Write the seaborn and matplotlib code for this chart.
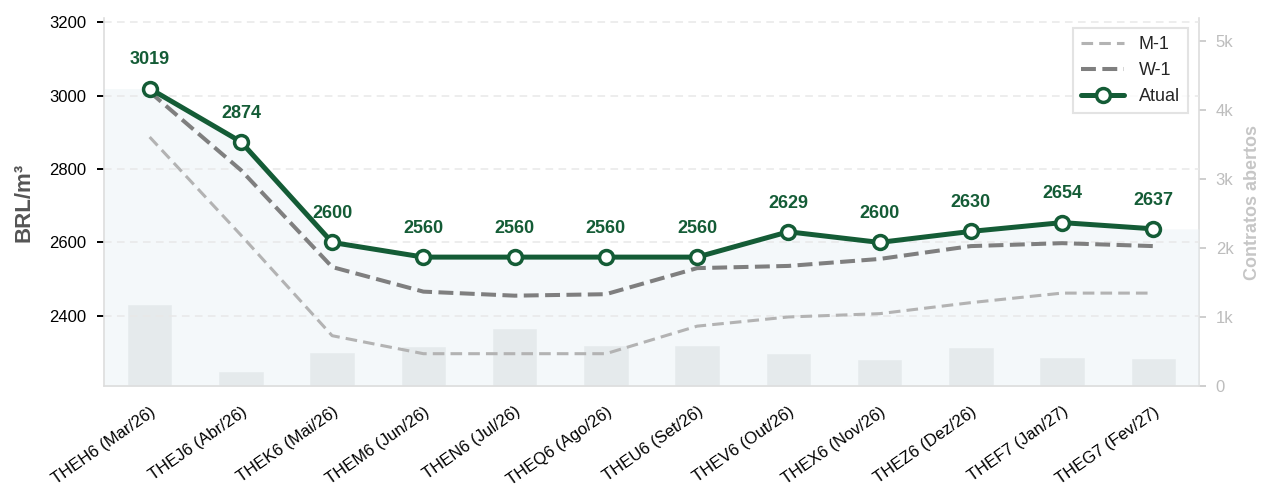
import numpy as np
import pandas as pd
import matplotlib
matplotlib.use("Agg")
import matplotlib.pyplot as plt
import seaborn as sns

categories = ["THEH6 (Mar/26)", "THEJ6 (Abr/26)", "THEK6 (Mai/26)", "THEM6 (Jun/26)",
              "THEN6 (Jul/26)", "THEQ6 (Ago/26)", "THEU6 (Set/26)", "THEV6 (Out/26)",
              "THEX6 (Nov/26)", "THEZ6 (Dez/26)", "THEF7 (Jan/27)", "THEG7 (Fev/27)"]
atual = [3019, 2874, 2600, 2560, 2560, 2560, 2560, 2629, 2600, 2630, 2654, 2637]
w1 = [3010, 2797, 2533, 2466, 2455, 2459, 2530, 2536, 2555, 2590, 2598, 2590]
m1 = [2887, 2620, 2346, 2297, 2297, 2297, 2372, 2397, 2406, 2436, 2462, 2462]
open_interest = [1190, 217, 487, 580, 847, 592, 592, 475, 390, 565, 420, 405]

sns.set_theme(style="white")
plt.rcParams["font.family"] = ["Liberation Sans", "DejaVu Sans"]

GREEN = "#145c36"
fig = plt.figure(figsize=(12.61, 4.88), dpi=100)
ax = fig.add_axes([0.0825, 0.209, 0.8683, 0.754])
ax2 = ax.twinx()
ax.set_zorder(ax2.get_zorder() + 1)
ax.patch.set_visible(False)

x = np.arange(len(categories))
df = pd.DataFrame({"x": x, "atual": atual, "w1": w1, "m1": m1, "oi": open_interest})

# bars (open interest) on twin axis
sns.barplot(data=df, x="x", y="oi", ax=ax2, color="#e4e6e7", width=0.5,
            saturation=1, native_scale=True)
ax2.set_ylim(0, 5330)
ax2.set_yticks([0, 1000, 2000, 3000, 4000, 5000])
ax2.set_yticklabels(["0", "1k", "2k", "3k", "4k", "5k"])
ax2.set_ylabel("Contratos abertos", color="#c6c6c6", fontsize=13, fontweight="bold",
               labelpad=8)
ax2.tick_params(axis="y", colors="#c6c6c6", labelsize=12, length=5, width=1.2,
                labelcolor="#bdbdbd", pad=7)
ax2.set_xlabel("")

# faint fill under the current curve
fx = np.concatenate([[-0.5], x, [11.5]])
fy = np.concatenate([[atual[0]], atual, [atual[-1]]])
ax.fill_between(fx, fy, 2000, color="#e8f1f4", alpha=0.45, linewidth=0, zorder=0)

sns.lineplot(data=df, x="x", y="m1", ax=ax, color="#b3b3b3", linewidth=2.2,
             linestyle=(0, (3.8, 2.0)), label="M-1")
sns.lineplot(data=df, x="x", y="w1", ax=ax, color="#7f7f7f", linewidth=2.9,
             linestyle=(0, (3.7, 1.6)), label="W-1")
sns.lineplot(data=df, x="x", y="atual", ax=ax, color=GREEN, linewidth=3.6,
             marker="o", markersize=10, markerfacecolor="white",
             markeredgecolor=GREEN, markeredgewidth=2.5, label="Atual")

for xi, v in zip(x, atual):
    ax.annotate(f"{v}", (xi, v), xytext=(0, 14.5), textcoords="offset points",
                ha="center", va="bottom", color=GREEN, fontsize=13, fontweight="bold")

ax.set_xlim(-0.5, 11.5)
ax2.set_xlim(-0.5, 11.5)
ax.set_ylim(2209, 3211)
ax.set_yticks([2400, 2600, 2800, 3000, 3200])
ax.yaxis.grid(True, linestyle=(0, (5, 3.5)), color="#e8e8e8", linewidth=1.1)
ax.xaxis.grid(False)
ax.set_xticks(x)
ax.set_xticklabels(categories, rotation=35, ha="right", rotation_mode="anchor")
ax.tick_params(axis="x", labelsize=12, length=5, width=1.4, colors="black", pad=8)
ax.tick_params(axis="y", labelsize=12, length=5, width=1.4, colors="black", pad=8)
ax.set_xlabel("")
ax.set_ylabel("BRL/m³", color="#555555", fontsize=16, fontweight="bold", labelpad=10)

for a in (ax, ax2):
    a.spines["top"].set_visible(False)
    for s in ("left", "bottom", "right"):
        a.spines[s].set_color("#dddddd")
        a.spines[s].set_linewidth(1.2)
ax.spines["right"].set_visible(False)
ax2.spines["left"].set_visible(False)
ax2.spines["bottom"].set_visible(False)

leg = ax.legend(loc="upper right", fontsize=13, frameon=True, fancybox=False,
                edgecolor="#dddddd", handlelength=2.4, borderpad=0.45,
                borderaxespad=0, bbox_to_anchor=(0.990, 0.973))
leg.get_frame().set_linewidth(1.5)

fig.savefig("out.png", dpi=100, facecolor="white")
